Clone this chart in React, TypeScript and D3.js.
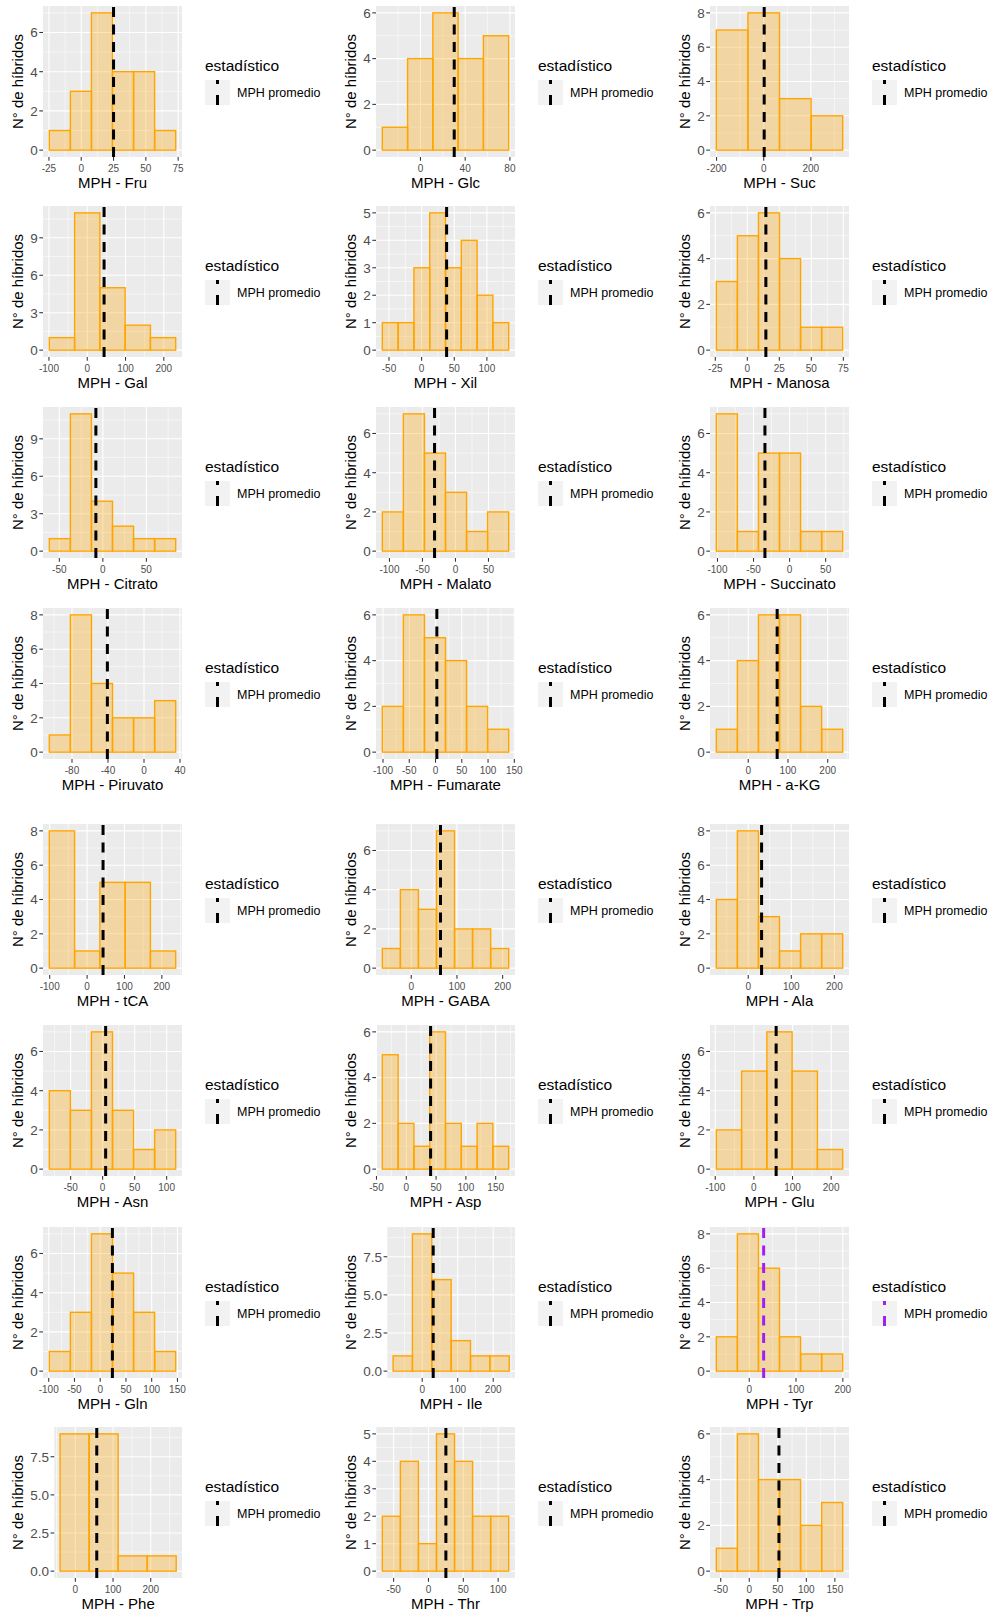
import React from "react";
import * as d3 from "d3";

// Metabolites, one histogram each, in reading order (3 per row)
const metabolites = [
  "Fru", "Glc", "Suc",
  "Gal", "Xil", "Manosa",
  "Citrato", "Malato", "Succinato",
  "Piruvato", "Fumarate", "a-KG",
  "tCA", "GABA", "Ala",
  "Asn", "Asp", "Glu",
  "Gln", "Ile", "Tyr",
  "Phe", "Thr", "Trp",
];

// Number of hybrids in each MPH bin
const counts: number[][] = [
  [1, 3, 7, 4, 4, 1],
  [1, 4, 6, 4, 5],
  [7, 8, 3, 2],
  [1, 11, 5, 2, 1],
  [1, 1, 3, 5, 3, 4, 2, 1],
  [3, 5, 6, 4, 1, 1],
  [1, 11, 4, 2, 1, 1],
  [2, 7, 5, 3, 1, 2],
  [7, 1, 5, 5, 1, 1],
  [1, 8, 4, 2, 2, 3],
  [2, 6, 5, 4, 2, 1],
  [1, 4, 6, 6, 2, 1],
  [8, 1, 5, 5, 1],
  [1, 4, 3, 7, 2, 2, 1],
  [4, 8, 3, 1, 2, 2],
  [4, 3, 7, 3, 1, 2],
  [5, 2, 1, 6, 2, 1, 2, 1],
  [2, 5, 7, 5, 1],
  [1, 3, 7, 5, 3, 1],
  [1, 9, 6, 2, 1, 1],
  [2, 8, 6, 2, 1, 1],
  [9, 9, 1, 1],
  [2, 4, 1, 5, 4, 2, 2],
  [1, 6, 4, 4, 2, 3],
];

// Left edge of the first bin (MPH, %)
const binStart = [
  -24.7, -34.1, -201,
  -99, -60.2, -24.2,
  -61.5, -110.8, -101.6,
  -105.2, -101.3, -80.3,
  -101, -63.3, -74.1,
  -83.3, -40.2, -97.2,
  -98.8, -82, -70.3,
  -40.5, -66.2, -57.7,
];

// Bin width (MPH, %)
const binWidth = [
  16.3, 22.6, 134,
  66, 24.2, 16.45,
  24.2, 31.9, 29.2,
  23.4, 40.1, 53,
  67.6, 39.5, 48.9,
  32.9, 26.5, 65.4,
  40.9, 54.5, 45,
  77, 25.9, 36.9,
];

// Mean MPH ("MPH promedio")
const meanMPH = [
  25, 30.2, 2,
  44, 38.3, 14.5,
  -8, -31.7, -34.2,
  -40.7, 2.5, 72.8,
  42.7, 64, 31,
  4.7, 40.8, 57.6,
  23.7, 31, 30.8,
  56.8, 25, 52,
];

// X-axis tick values
const xTicks: number[][] = [
  [-25, 0, 25, 50, 75], [0, 40, 80], [-200, 0, 200],
  [-100, 0, 100, 200], [-50, 0, 50, 100], [-25, 0, 25, 50, 75],
  [-50, 0, 50], [-100, -50, 0, 50], [-100, -50, 0, 50],
  [-80, -40, 0, 40], [-100, -50, 0, 50, 100, 150], [0, 100, 200],
  [-100, 0, 100, 200], [0, 100, 200], [0, 100, 200],
  [-50, 0, 50, 100], [-50, 0, 50, 100, 150], [-100, 0, 100, 200],
  [-100, -50, 0, 50, 100, 150], [0, 100, 200], [0, 100, 200],
  [0, 100, 200], [-50, 0, 50, 100], [-50, 0, 50, 100, 150],
];

// Y-axis tick values
const yTicks: number[][] = [
  [0, 2, 4, 6], [0, 2, 4, 6], [0, 2, 4, 6, 8],
  [0, 3, 6, 9], [0, 1, 2, 3, 4, 5], [0, 2, 4, 6],
  [0, 3, 6, 9], [0, 2, 4, 6], [0, 2, 4, 6],
  [0, 2, 4, 6, 8], [0, 2, 4, 6], [0, 2, 4, 6],
  [0, 2, 4, 6, 8], [0, 2, 4, 6], [0, 2, 4, 6, 8],
  [0, 2, 4, 6], [0, 2, 4, 6], [0, 2, 4, 6],
  [0, 2, 4, 6], [0, 2.5, 5, 7.5], [0, 2, 4, 6, 8],
  [0, 2.5, 5, 7.5], [0, 1, 2, 3, 4, 5], [0, 2, 4, 6],
];

const HIGHLIGHT = "Tyr";
const legendLabel = "MPH promedio";
const legendTitle = "estadístico";
const yTitle = "N° de híbridos";

// Layout
const WIDTH = 996;
const HEIGHT = 1621;
const colX = [0, 333, 667];
const rowY = [0, 200, 401, 602, 818, 1019, 1221, 1421];
const FONT = "'Liberation Sans', Arial, Helvetica, sans-serif";
const Y_TICK_FS = 13.5;
const X_TICK_FS = 10;

function textWidth(s: string, fs: number) {
  let w = 0;
  for (const ch of s) w += ch === "." ? 0.278 : ch === "-" ? 0.333 : 0.556;
  return w * fs;
}

function minorBreaks(major: number[], lo: number, hi: number) {
  const step = major[1] - major[0];
  const ext = [major[0] - step, ...major, major[major.length - 1] + step];
  const out: number[] = [];
  for (let k = 0; k < ext.length - 1; k++) {
    const m = (ext[k] + ext[k + 1]) / 2;
    if (m >= lo && m <= hi) out.push(m);
  }
  return out;
}

function Histogram({ i }: { i: number }) {
  const col = i % 3;
  const row = Math.floor(i / 3);
  const ox = colX[col];
  const oy = rowY[row];

  const decimals = yTicks[i].some((v) => !Number.isInteger(v));
  const fmtY = (v: number) => (decimals ? v.toFixed(1) : String(v));
  const yLabels = yTicks[i].map(fmtY);
  const labW = Math.max(...yLabels.map((l) => textWidth(l, Y_TICK_FS)));

  const left = ox + 35.5 + labW;
  const right = ox + 182;
  const top = oy + 6;
  const bottom = top + 151;

  const n = counts[i].length;
  const x0 = binStart[i];
  const x1 = x0 + n * binWidth[i];
  const padX = 0.05 * (x1 - x0);
  const x = d3.scaleLinear().domain([x0 - padX, x1 + padX]).range([left, right]);
  const ymax = d3.max(counts[i]) as number;
  const y = d3.scaleLinear().domain([-0.05 * ymax, 1.05 * ymax]).range([bottom, top]);

  const [xlo, xhi] = x.domain();
  const [ylo, yhi] = y.domain();
  const xMaj = xTicks[i].filter((v) => v >= xlo && v <= xhi);
  const yMaj = yTicks[i].filter((v) => v >= ylo && v <= yhi);
  const xMin = minorBreaks(xTicks[i], xlo, xhi);
  const yMin = minorBreaks(yTicks[i], ylo, yhi);

  const bins = counts[i].map((c, k) => ({
    a: x0 + k * binWidth[i],
    b: x0 + (k + 1) * binWidth[i],
    c,
  }));

  const lineColour = metabolites[i] === HIGHLIGHT ? "#A020F0" : "#000000";
  const mx = x(meanMPH[i]);

  return (
    <g>
      {/* panel */}
      <rect x={left} y={top} width={right - left} height={bottom - top} fill="#EBEBEB" />
      {xMin.map((v) => (
        <line key={"xm" + v} x1={x(v)} x2={x(v)} y1={top} y2={bottom} stroke="#fff" strokeWidth={0.55} />
      ))}
      {yMin.map((v) => (
        <line key={"ym" + v} x1={left} x2={right} y1={y(v)} y2={y(v)} stroke="#fff" strokeWidth={0.55} />
      ))}
      {xMaj.map((v) => (
        <line key={"xM" + v} x1={x(v)} x2={x(v)} y1={top} y2={bottom} stroke="#fff" strokeWidth={1.1} />
      ))}
      {yMaj.map((v) => (
        <line key={"yM" + v} x1={left} x2={right} y1={y(v)} y2={y(v)} stroke="#fff" strokeWidth={1.1} />
      ))}

      {/* bars */}
      {bins.map((d, k) => (
        <rect
          key={k}
          x={x(d.a)}
          y={y(d.c)}
          width={x(d.b) - x(d.a)}
          height={y(0) - y(d.c)}
          fill="#FFA500"
          fillOpacity={0.3}
          stroke="#FFA500"
          strokeWidth={1.4}
        />
      ))}

      {/* mean line, drawn bottom to top */}
      <line x1={mx} x2={mx} y1={bottom} y2={top} stroke={lineColour} strokeWidth={3} strokeDasharray="10 7.5" />

      {/* y axis */}
      {yMaj.map((v) => (
        <g key={"yt" + v}>
          <line x1={left - 3.7} x2={left} y1={y(v)} y2={y(v)} stroke="#333" strokeWidth={1.07} />
          <text
            x={left - 5.2}
            y={y(v)}
            dy="0.36em"
            textAnchor="end"
            fontSize={Y_TICK_FS}
            fill="#4D4D4D"
          >
            {fmtY(v)}
          </text>
        </g>
      ))}
      {/* x axis */}
      {xMaj.map((v) => (
        <g key={"xt" + v}>
          <line x1={x(v)} x2={x(v)} y1={bottom} y2={bottom + 3.7} stroke="#333" strokeWidth={1.07} />
          <text x={x(v)} y={bottom + 14.5} textAnchor="middle" fontSize={X_TICK_FS} fill="#4D4D4D">
            {String(v)}
          </text>
        </g>
      ))}

      {/* axis titles */}
      <text x={(left + right) / 2} y={bottom + 31} textAnchor="middle" fontSize={15} fill="#000">
        {"MPH - " + metabolites[i]}
      </text>
      <text
        transform={`translate(${ox + 23},${(top + bottom) / 2}) rotate(-90)`}
        textAnchor="middle"
        fontSize={15}
        fill="#000"
      >
        {yTitle}
      </text>

      {/* legend */}
      <text x={ox + 205} y={oy + 71} fontSize={15.5} fill="#000">
        {legendTitle}
      </text>
      <rect x={ox + 205} y={oy + 80} width={25} height={25} fill="#F2F2F2" />
      <line
        x1={ox + 217.5}
        x2={ox + 217.5}
        y1={oy + 105}
        y2={oy + 80}
        stroke={lineColour}
        strokeWidth={3}
        strokeDasharray="10 11"
      />
      <text x={ox + 237} y={oy + 97} fontSize={12.5} fill="#000">
        {legendLabel}
      </text>
    </g>
  );
}

export default function App() {
  return (
    <svg
      width={WIDTH}
      height={HEIGHT}
      viewBox={`0 0 ${WIDTH} ${HEIGHT}`}
      style={{ position: "absolute", left: 0, top: 0, background: "#fff", fontFamily: FONT }}
    >
      <rect width={WIDTH} height={HEIGHT} fill="#fff" />
      {metabolites.map((m, i) => (
        <Histogram key={m} i={i} />
      ))}
    </svg>
  );
}
